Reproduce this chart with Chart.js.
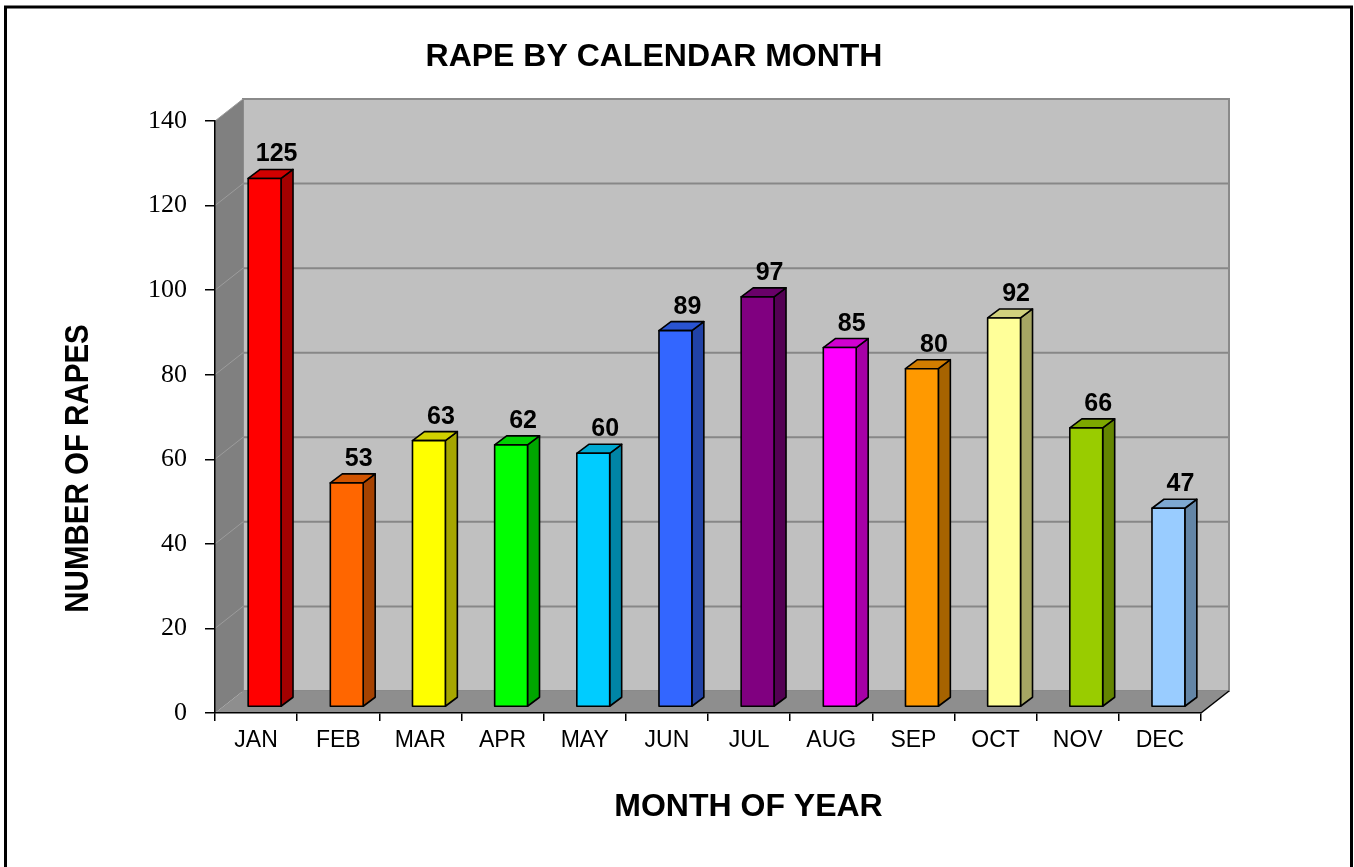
<!DOCTYPE html>
<html>
<head>
<meta charset="utf-8">
<script src="https://cdn.jsdelivr.net/npm/chart.js@4.4.1/dist/chart.umd.min.js"></script>
<style>
html,body{margin:0;padding:0;background:#fff;overflow:hidden}
#wrap{width:1354px;height:867px;position:relative}
</style>
</head>
<body>
<div id="wrap"><canvas id="c" width="1354" height="867"></canvas></div>
<script>
// ---- data ----
const months = ['JAN','FEB','MAR','APR','MAY','JUN','JUL','AUG','SEP','OCT','NOV','DEC'];
const rapes = [125, 53, 63, 62, 60, 89, 97, 85, 80, 92, 66, 47];
const yMin = 0, yMax = 140, yStep = 20;
const chartTitle = 'RAPE BY CALENDAR MONTH';
const xTitle = 'MONTH OF YEAR';
const yTitle = 'NUMBER OF RAPES';
const frontColors = ['#ff0000','#ff6600','#ffff00','#00ff00','#00ccff','#3366ff','#800080','#ff00ff','#ff9900','#ffff99','#99cc00','#99ccff'];
const sideColors  = ['#a30000','#a64200','#a6a600','#00a600','#0085a6','#2142a6','#530053','#a600a6','#a66300','#a6a663','#638500','#6385a6'];
const topColors   = ['#d10000','#d15400','#d1d100','#00d100','#00a8d1','#2a54d1','#690069','#d100d1','#d17d00','#d1d17d','#7da800','#7da8d1'];

// ---- 3D geometry (pixels) ----
const WALL_DX = 28, WALL_DY = -22;   // depth of back wall
const BAR_OX = 8.5, BAR_OY = -6;     // front face offset of bars
const BAR_DX = 12, BAR_DY = -9;      // bar depth

const sans = '"Liberation Sans", Arial, Helvetica, sans-serif';
const serif = '"Liberation Serif", "Times New Roman", serif';

const threeD = {
  id: 'threeD',
  beforeDraw(chart) {
    const {ctx, chartArea: a, scales: {y}} = chart;
    const L = a.left, R = a.right;
    const T = y.getPixelForValue(yMax), B = y.getPixelForValue(yMin);
    ctx.save();
    ctx.fillStyle = '#fff';
    ctx.fillRect(0, 0, chart.width, chart.height);
    // back wall
    ctx.fillStyle = '#c0c0c0';
    ctx.fillRect(L + WALL_DX, T + WALL_DY, R - L, B - T);
    ctx.strokeStyle = '#878787';
    ctx.lineWidth = 2;
    for (let v = yMin + yStep; v < yMax; v += yStep) {
      const py = y.getPixelForValue(v) + WALL_DY;
      ctx.beginPath(); ctx.moveTo(L + WALL_DX, py); ctx.lineTo(R + WALL_DX, py); ctx.stroke();
    }
    ctx.strokeStyle = '#8a8a8a';
    ctx.strokeRect(L + WALL_DX, T + WALL_DY, R - L, B - T);
    // side wall
    ctx.fillStyle = '#808080';
    ctx.beginPath();
    ctx.moveTo(L, T); ctx.lineTo(L + WALL_DX, T + WALL_DY); ctx.lineTo(L + WALL_DX, B + WALL_DY); ctx.lineTo(L, B);
    ctx.closePath(); ctx.fill();
    ctx.strokeStyle = '#9c9c9c'; ctx.lineWidth = 1;
    for (let v = yMin + yStep; v <= yMax; v += yStep) {
      const py = y.getPixelForValue(v);
      ctx.beginPath(); ctx.moveTo(L, py); ctx.lineTo(L + WALL_DX, py + WALL_DY); ctx.stroke();
    }
    // floor
    ctx.fillStyle = '#8e8e8e';
    ctx.beginPath();
    ctx.moveTo(L, B); ctx.lineTo(R, B); ctx.lineTo(R + WALL_DX, B + WALL_DY); ctx.lineTo(L + WALL_DX, B + WALL_DY);
    ctx.closePath(); ctx.fill();
    ctx.strokeStyle = '#000'; ctx.lineWidth = 1.5;
    ctx.beginPath(); ctx.moveTo(R, B); ctx.lineTo(R + WALL_DX, B + WALL_DY); ctx.stroke();
    ctx.restore();
  },
  beforeDatasetsDraw(chart) {
    const {ctx} = chart;
    const meta = chart.getDatasetMeta(0);
    ctx.save();
    ctx.lineJoin = 'round';
    meta.data.forEach((el, i) => {
      const p = el.getProps(['x', 'y', 'base', 'width'], true);
      const cx = p.x + BAR_OX;
      const x0 = cx - p.width / 2, x1 = cx + p.width / 2;
      const yt = p.y + BAR_OY, yb = p.base + BAR_OY;
      ctx.strokeStyle = '#000'; ctx.lineWidth = 1.6;
      // side face
      ctx.fillStyle = sideColors[i];
      ctx.beginPath();
      ctx.moveTo(x1, yt); ctx.lineTo(x1 + BAR_DX, yt + BAR_DY); ctx.lineTo(x1 + BAR_DX, yb + BAR_DY); ctx.lineTo(x1, yb);
      ctx.closePath(); ctx.fill(); ctx.stroke();
      // top face
      ctx.fillStyle = topColors[i];
      ctx.beginPath();
      ctx.moveTo(x0, yt); ctx.lineTo(x0 + BAR_DX, yt + BAR_DY); ctx.lineTo(x1 + BAR_DX, yt + BAR_DY); ctx.lineTo(x1, yt);
      ctx.closePath(); ctx.fill(); ctx.stroke();
      // front face
      ctx.fillStyle = frontColors[i];
      ctx.fillRect(x0, yt, x1 - x0, yb - yt);
      ctx.strokeRect(x0, yt, x1 - x0, yb - yt);
      // value label
      ctx.fillStyle = '#000';
      ctx.font = 'bold 25px ' + sans;
      ctx.textAlign = 'center';
      ctx.textBaseline = 'alphabetic';
      ctx.fillText(String(rapes[i]), cx + 12, yt - 17);
    });
    ctx.restore();
    return false;
  },
  afterDraw(chart) {
    const {ctx} = chart;
    ctx.save();
    ctx.fillStyle = '#000';
    ctx.textBaseline = 'alphabetic';
    ctx.textAlign = 'center';
    ctx.font = 'bold 32px ' + sans;
    ctx.fillText(chartTitle, 654, 66);
    ctx.fillText(xTitle, 748.5, 816);
    ctx.save();
    ctx.translate(88, 468.5);
    ctx.rotate(-Math.PI / 2);
    ctx.scale(1, 1.15);
    ctx.font = 'bold 29.5px ' + sans;
    ctx.fillText(yTitle, 0, 0);
    ctx.restore();
    // frame
    ctx.strokeStyle = '#000';
    ctx.lineWidth = 3;
    ctx.strokeRect(5.5, 7, 1346, 900);
    ctx.restore();
  }
};

new Chart(document.getElementById('c'), {
  type: 'bar',
  data: {
    labels: months,
    datasets: [{
      data: rapes,
      backgroundColor: frontColors,
      categoryPercentage: 1,
      barPercentage: 0.4
    }]
  },
  options: {
    responsive: false,
    animation: false,
    events: [],
    layout: {padding: {left: 0, right: 153, top: 121, bottom: 0}},
    plugins: {legend: {display: false}, title: {display: false}, tooltip: {enabled: false}},
    scales: {
      x: {
        type: 'category',
        offset: true,
        grid: {display: true, offset: true, drawOnChartArea: false, drawTicks: true, tickLength: 8, color: '#000', lineWidth: 1.5},
        border: {display: true, color: '#000', width: 1.5},
        ticks: {color: '#000', font: {family: sans, size: 23}, padding: 6, maxRotation: 0, autoSkip: false},
        afterFit(s) { s.height = 154; }
      },
      y: {
        min: yMin, max: yMax,
        grid: {display: true, drawOnChartArea: false, drawTicks: true, tickLength: 10, color: '#000', lineWidth: 1.5},
        border: {display: true, color: '#000', width: 1.5},
        ticks: {stepSize: yStep, color: '#000', font: {family: serif, size: 26}, padding: 18},
        afterFit(s) { s.width = 215; }
      }
    }
  },
  plugins: [threeD]
});
</script>
</body>
</html>
